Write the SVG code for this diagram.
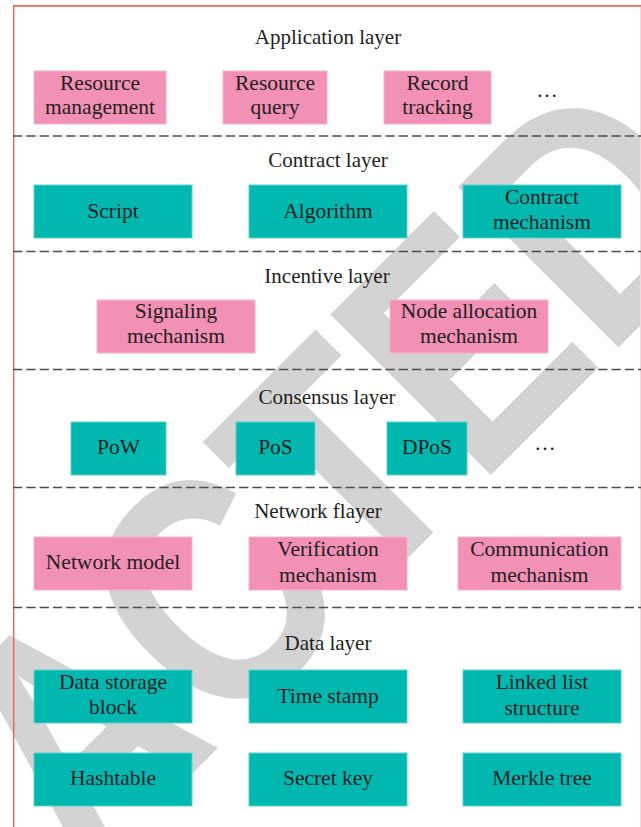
<svg xmlns="http://www.w3.org/2000/svg" width="641" height="827" viewBox="0 0 641 827">
<style>
.t{font-family:"Liberation Serif","Times New Roman",serif;font-size:21.5px;fill:#231f20;text-anchor:middle}
.h{font-size:21px}
.p{fill:#f290b6;stroke:#f6b3cd;stroke-width:1}
.g{fill:#00b8b0;stroke:#5fd0ca;stroke-width:1}
.sep{stroke:#4d4d4d;stroke-width:1.5;stroke-dasharray:9.3 4}
.wm{font-family:"Liberation Sans",Arial,sans-serif;font-weight:bold;font-size:330px;fill:#d3d3d3}
</style>
<rect width="641" height="827" fill="#ffffff"/>
<g id="watermark">
<text class="wm" transform="translate(-436,1402) rotate(-45) scale(0.82,1)" x="0" y="0">RETRACTED</text>
</g>
<g id="frame">
<line x1="13.7" y1="5" x2="13.7" y2="827" stroke="#ef6650" stroke-width="1.4"/>
<line x1="13" y1="5.8" x2="641" y2="5.8" stroke="#f26a55" stroke-width="1.8"/>
<line x1="640.5" y1="7" x2="640.5" y2="827" stroke="#fbd8d3" stroke-width="1"/>
</g>
<g id="connectors">
<line class="sep" x1="13" y1="136" x2="641" y2="136"/>
<line class="sep" x1="13" y1="251.5" x2="641" y2="251.5"/>
<line class="sep" x1="13" y1="369.5" x2="641" y2="369.5"/>
<line class="sep" x1="13" y1="487.5" x2="641" y2="487.5"/>
<line class="sep" x1="13" y1="607.5" x2="641" y2="607.5"/>
</g>
<g id="titles">
<text class="t h" x="328" y="44">Application layer</text>
<text class="t h" x="328" y="167">Contract layer</text>
<text class="t h" x="327" y="283">Incentive layer</text>
<text class="t h" x="327" y="404">Consensus layer</text>
<text class="t h" x="318" y="518">Network flayer</text>
<text class="t h" x="328" y="650">Data layer</text>
</g>
<g id="resource-management"><rect class="p" x="34" y="71" width="132" height="53"/><text class="t" x="100" y="90">Resource</text><text class="t" x="100" y="114">management</text></g>
<g id="resource-query"><rect class="p" x="223" y="71" width="104" height="53"/><text class="t" x="275" y="90">Resource</text><text class="t" x="275" y="114">query</text></g>
<g id="record-tracking"><rect class="p" x="384" y="71" width="107" height="53"/><text class="t" x="437.5" y="90">Record</text><text class="t" x="437.5" y="114">tracking</text></g>
<g id="app-more"><text class="t" x="547" y="97">…</text></g>
<g id="script"><rect class="g" x="34" y="185" width="158" height="53"/><text class="t" x="113" y="218">Script</text></g>
<g id="algorithm"><rect class="g" x="249" y="185" width="158" height="53"/><text class="t" x="328" y="218">Algorithm</text></g>
<g id="contract-mechanism"><rect class="g" x="463" y="185" width="158" height="53"/><text class="t" x="542" y="204">Contract</text><text class="t" x="542" y="229">mechanism</text></g>
<g id="signaling-mechanism"><rect class="p" x="97" y="300" width="158" height="53"/><text class="t" x="176" y="318">Signaling</text><text class="t" x="176" y="343">mechanism</text></g>
<g id="node-allocation-mechanism"><rect class="p" x="390" y="300" width="158" height="53"/><text class="t" x="469" y="318">Node allocation</text><text class="t" x="469" y="343">mechanism</text></g>
<g id="pow"><rect class="g" x="71" y="422" width="95" height="53"/><text class="t" x="118.5" y="454">PoW</text></g>
<g id="pos"><rect class="g" x="236" y="422" width="79" height="53"/><text class="t" x="275.5" y="454">PoS</text></g>
<g id="dpos"><rect class="g" x="387" y="422" width="80" height="53"/><text class="t" x="427" y="454">DPoS</text></g>
<g id="consensus-more"><text class="t" x="545" y="450">…</text></g>
<g id="network-model"><rect class="p" x="34" y="537" width="158" height="53"/><text class="t" x="113" y="569">Network model</text></g>
<g id="verification-mechanism"><rect class="p" x="249" y="537" width="158" height="53"/><text class="t" x="328" y="556">Verification</text><text class="t" x="328" y="582">mechanism</text></g>
<g id="communication-mechanism"><rect class="p" x="458" y="537" width="163" height="53"/><text class="t" x="539.5" y="556">Communication</text><text class="t" x="539.5" y="582">mechanism</text></g>
<g id="data-storage-block"><rect class="g" x="34" y="670" width="158" height="53"/><text class="t" x="113" y="689">Data storage</text><text class="t" x="113" y="714">block</text></g>
<g id="time-stamp"><rect class="g" x="249" y="670" width="158" height="53"/><text class="t" x="328" y="703">Time stamp</text></g>
<g id="linked-list-structure"><rect class="g" x="463" y="670" width="158" height="53"/><text class="t" x="542" y="689">Linked list</text><text class="t" x="542" y="715">structure</text></g>
<g id="hashtable"><rect class="g" x="34" y="753" width="158" height="53"/><text class="t" x="113" y="785">Hashtable</text></g>
<g id="secret-key"><rect class="g" x="249" y="753" width="158" height="53"/><text class="t" x="328" y="785">Secret key</text></g>
<g id="merkle-tree"><rect class="g" x="463" y="753" width="158" height="53"/><text class="t" x="542" y="785">Merkle tree</text></g>
</svg>
